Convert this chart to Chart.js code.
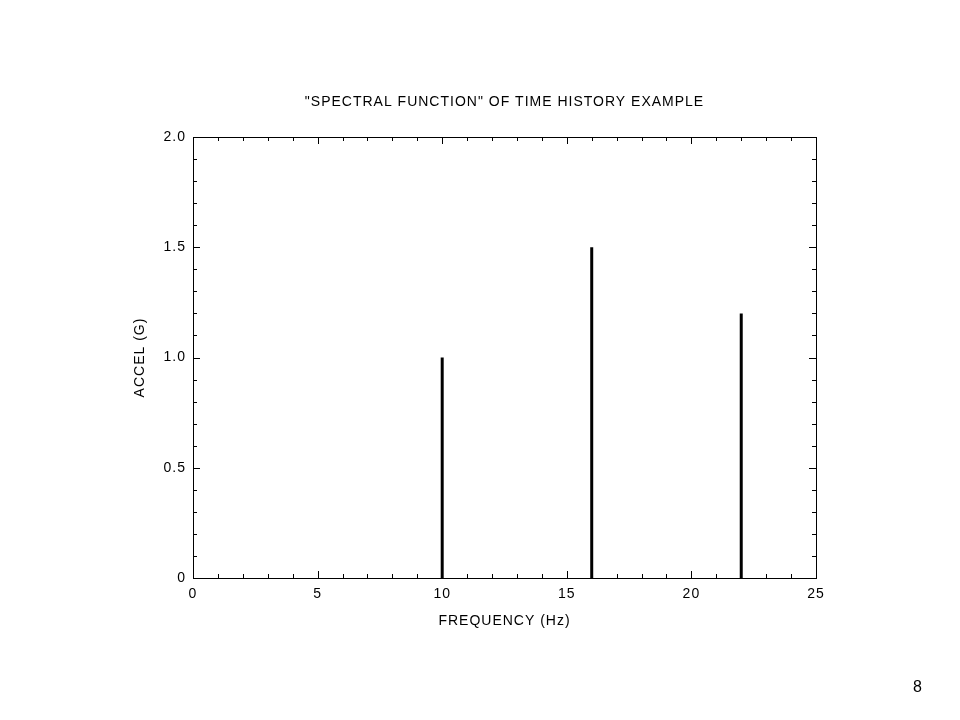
<!DOCTYPE html>
<html>
<head>
<meta charset="utf-8">
<script src="https://cdn.jsdelivr.net/npm/chart.js@4.4.1/dist/chart.umd.min.js"></script>
<style>
  html, body { margin: 0; padding: 0; background: #fff; overflow: hidden; }
  #wrap { position: relative; width: 960px; height: 720px; }
  #page { position: absolute; left: 913px; top: 678px; font: 16px "Liberation Sans", Arial, sans-serif; color: #000; }
</style>
</head>
<body>
<div id="wrap">
  <canvas id="c" width="960" height="720"></canvas>
  <div id="page">8</div>
</div>
<script>
const chartTitle = '"SPECTRAL FUNCTION" OF TIME HISTORY EXAMPLE';
const xTitle = 'FREQUENCY (Hz)';
const yTitle = 'ACCEL (G)';
const freqs = [10, 16, 22];
const amps = [1.0, 1.5, 1.2];
const xTickLabels = ['0', '5', '10', '15', '20', '25'];
const yTickLabels = ['0', '0.5', '1.0', '1.5', '2.0'];

const FONT = '"Liberation Sans", Arial, sans-serif';

const datasets = freqs.map((f, i) => ({
  data: [{ x: f, y: 0 }, { x: f, y: amps[i] }],
  showLine: true,
  borderColor: '#000',
  borderWidth: 3,
  borderCapStyle: 'butt',
  pointRadius: 0,
  fill: false
}));

const spacingPlugin = {
  id: 'spacing',
  beforeInit(chart) { chart.ctx.letterSpacing = '1px'; },
  beforeUpdate(chart) { chart.ctx.letterSpacing = '1px'; },
  beforeLayout(chart) { chart.ctx.letterSpacing = '1px'; },
  beforeDraw(chart) { chart.ctx.letterSpacing = '1px'; }
};

const framePlugin = {
  id: 'frame',
  afterDatasetsDraw(chart) {
    const { ctx, chartArea: a, scales: { x, y } } = chart;
    ctx.save();
    ctx.strokeStyle = '#000';
    ctx.lineWidth = 1;
    ctx.beginPath();
    // x ticks (minor every 1, major every 5)
    for (let v = x.min; v <= x.max + 1e-9; v += 1) {
      const px = Math.round(x.getPixelForValue(v)) + 0.5;
      const len = (Math.abs(v % 5) < 1e-9) ? 7 : 4;
      ctx.moveTo(px, a.bottom); ctx.lineTo(px, a.bottom - len);
      ctx.moveTo(px, a.top); ctx.lineTo(px, a.top + len);
    }
    // y ticks (minor every 0.1, major every 0.5)
    for (let k = 0; k <= 20; k++) {
      const v = k / 10;
      const py = Math.round(y.getPixelForValue(v)) + 0.5;
      const len = (k % 5 === 0) ? 7 : 4;
      ctx.moveTo(a.left, py); ctx.lineTo(a.left + len, py);
      ctx.moveTo(a.right, py); ctx.lineTo(a.right - len, py);
    }
    ctx.stroke();
    ctx.strokeRect(Math.round(a.left) + 0.5, Math.round(a.top) + 0.5,
                   Math.round(a.right - a.left), Math.round(a.bottom - a.top));
    ctx.restore();
  }
};

new Chart(document.getElementById('c'), {
  type: 'scatter',
  data: { datasets },
  plugins: [spacingPlugin, framePlugin],
  options: {
    responsive: false,
    animation: false,
    events: [],
    layout: { padding: { left: 0, right: 144, top: 0, bottom: 0 } },
    plugins: {
      legend: { display: false },
      tooltip: { enabled: false },
      title: {
        display: true,
        fullSize: false,
        text: chartTitle,
        color: '#000',
        font: { family: FONT, size: 14, weight: 'normal' },
        padding: { top: 94, bottom: 26.2 }
      }
    },
    scales: {
      x: {
        type: 'linear',
        min: 0, max: 25,
        afterFit(s) { s.height = 142; },
        grid: { display: false, drawTicks: false },
        border: { display: false },
        ticks: {
          stepSize: 5,
          color: '#000',
          font: { family: FONT, size: 14 },
          padding: 8,
          maxRotation: 0,
          callback: (v) => xTickLabels[Math.round(v / 5)]
        },
        title: {
          display: true, text: xTitle, color: '#000',
          font: { family: FONT, size: 14 },
          padding: { top: 0, bottom: 90.6 }
        }
      },
      y: {
        type: 'linear',
        min: 0, max: 2,
        afterFit(s) { s.width = 193; },
        grid: { display: false, drawTicks: false },
        border: { display: false },
        ticks: {
          stepSize: 0.5,
          color: '#000',
          font: { family: FONT, size: 14 },
          padding: 7,
          callback: (v) => yTickLabels[Math.round(v / 0.5)]
        },
        title: {
          display: true, text: yTitle, color: '#000',
          font: { family: FONT, size: 14 },
          padding: { top: 131.6, bottom: 0 }
        }
      }
    }
  }
});
</script>
</body>
</html>
